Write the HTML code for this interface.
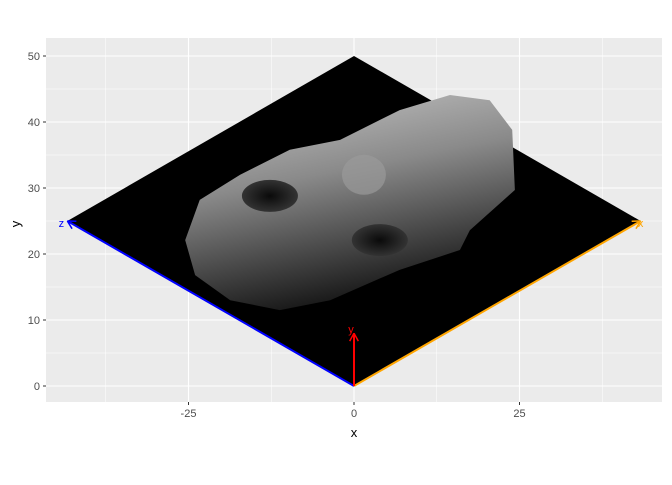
<!DOCTYPE html>
<html><head><meta charset="utf-8"><style>
body{margin:0;background:#fff;font-family:"Liberation Sans",sans-serif}
</style></head><body>
<svg id="c" width="672" height="480" xmlns="http://www.w3.org/2000/svg">
<defs>
<linearGradient id="fg" x1="0" y1="0" x2="0.3" y2="1">
<stop offset="0" stop-color="#c8c8c8"/><stop offset="0.45" stop-color="#8a8a8a"/><stop offset="1" stop-color="#1a1a1a"/>
</linearGradient>
<radialGradient id="eye"><stop offset="0" stop-color="#0a0a0a"/><stop offset="1" stop-color="#333"/></radialGradient>
</defs>
</svg>
<script>
const xTicks=[-25,0,25];
const yTicks=[0,10,20,30,40,50];
const baseX=[0,-43.3,0,43.3];
const baseY=[50,25,0,25];
const faceX=[-25.5,-23.3,-17.2,-9.7,-2.1,6.9,14.5,20.5,23.9,24.3,17.5,16,6.9,-3.6,-11.2,-18.7,-24];
const faceY=[22.1,28.2,32,35.8,37.3,41.8,44.1,43.3,38.8,29.7,23.6,20.6,17.6,13,11.5,13,16.8];
const arrowNames=["z","x","y"];
const arrowX=[-43.3,43.3,0];
const arrowY=[25,25,8];
const arrowColors=["blue","orange","red"];
const eyeX=[-12.7,3.9]; const eyeY=[28.8,22.1];
const P={l:46,r:662,t:38,b:402};
const sx=v=>354+v*6.62, sy=v=>386-v*6.6;
const svg=document.getElementById('c');
const NS="http://www.w3.org/2000/svg";
function mk(t,a,p){const e=document.createElementNS(NS,t);for(const k in a)e.setAttribute(k,a[k]);(p||svg).appendChild(e);return e;}
const panel=mk('rect',{x:P.l,y:P.t,width:P.r-P.l,height:P.b-P.t,fill:'#ebebeb'});


// minor grid
for(let i=0;i<xTicks.length-1;i++){const m=(xTicks[i]+xTicks[i+1])/2;mk('line',{x1:sx(m),x2:sx(m),y1:P.t,y2:P.b,stroke:'#fff','stroke-width':0.5});}
[-37.5,37.5].forEach(m=>mk('line',{x1:sx(m),x2:sx(m),y1:P.t,y2:P.b,stroke:'#fff','stroke-width':0.5}));
for(let i=0;i<yTicks.length-1;i++){const m=(yTicks[i]+yTicks[i+1])/2;mk('line',{y1:sy(m),y2:sy(m),x1:P.l,x2:P.r,stroke:'#fff','stroke-width':0.5});}
xTicks.forEach(v=>{
 const g=mk('line',{x1:sx(v),x2:sx(v),y1:P.t,y2:P.b,stroke:'#fff','stroke-width':1.1});
 
 
 mk('line',{x1:sx(v),x2:sx(v),y1:P.b,y2:P.b+3,stroke:'#333'});
 const t=mk('text',{x:sx(v),y:P.b+15,'text-anchor':'middle','font-size':11,fill:'#4d4d4d'});t.textContent=v;
 
 
});
yTicks.forEach(v=>{
 const g=mk('line',{y1:sy(v),y2:sy(v),x1:P.l,x2:P.r,stroke:'#fff','stroke-width':1.1});
 
 
 mk('line',{y1:sy(v),y2:sy(v),x1:P.l-3,x2:P.l,stroke:'#333'});
 const t=mk('text',{x:P.l-6,y:sy(v)+4,'text-anchor':'end','font-size':11,fill:'#4d4d4d'});t.textContent=v;
 
 
});
const base=mk('polygon',{points:baseX.map((x,i)=>sx(x)+','+sy(baseY[i])).join(' '),fill:'#000'});


const face=mk('polygon',{points:faceX.map((x,i)=>sx(x)+','+sy(faceY[i])).join(' '),fill:'url(#fg)'});


eyeX.forEach((x,i)=>{
 const e=mk('ellipse',{cx:sx(x),cy:sy(eyeY[i]),rx:28,ry:16,fill:'url(#eye)'});
 
 
});
const nose=mk('ellipse',{cx:sx(1.5),cy:sy(32),rx:22,ry:20,fill:'#9a9a9a',opacity:0.7});


arrowNames.forEach((n,i)=>{
 const x2=sx(arrowX[i]),y2=sy(arrowY[i]),x1=sx(0),y1=sy(0);
 const l=mk('line',{x1,y1,x2,y2,stroke:arrowColors[i],'stroke-width':2});
 
 
 const a=Math.atan2(y2-y1,x2-x1),h=9;
 [0.5,-0.5].forEach(d=>mk('line',{x1:x2,y1:y2,x2:x2-h*Math.cos(a+d),y2:y2-h*Math.sin(a+d),stroke:arrowColors[i],'stroke-width':1.5}));
 const t=mk('text',{x:x2+(arrowX[i]<0?-6:arrowX[i]>0?0:-3),y:y2+(arrowX[i]===0?0:6),'font-size':11,fill:arrowColors[i],'text-anchor':'middle'});t.textContent=n;
 
 
});
const xt=mk('text',{x:354,y:437,'text-anchor':'middle','font-size':13,fill:'#000'});xt.textContent='x';


const yt=mk('text',{x:20,y:224,'text-anchor':'middle','font-size':13,fill:'#000',transform:'rotate(-90 20 224)'});yt.textContent='y';


</script>
</body></html>
